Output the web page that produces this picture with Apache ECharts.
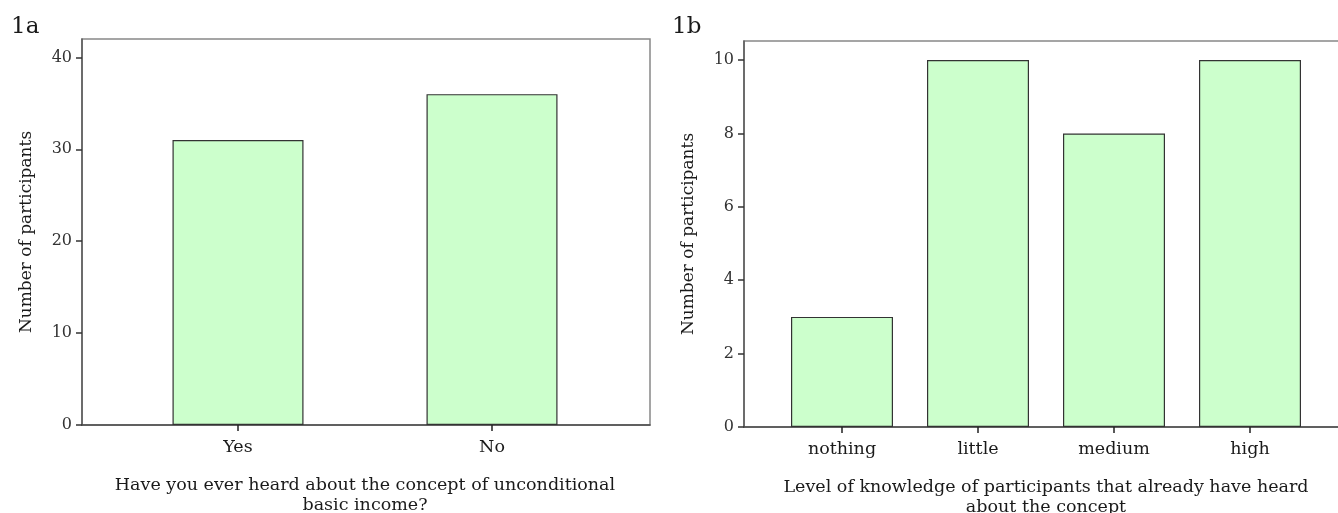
<!DOCTYPE html>
<html>
<head>
<meta charset="utf-8">
<title>Unconditional basic income survey</title>
<script src="https://cdn.jsdelivr.net/npm/echarts@6/dist/echarts.min.js"></script>
<style>
  html, body { margin: 0; padding: 0; background: #ffffff; }
  #chart { width: 1338px; height: 513px; }
</style>
</head>
<body>
<div id="chart"></div>
<script>
// Panel 1a: heard about the concept?
const categoriesA = ['Yes', 'No'];
const valuesA = [31, 36];
const yTicksA = [0, 10, 20, 30, 40];
const yMaxA = 42;

// Panel 1b: knowledge level among those who had heard of it
const categoriesB = ['nothing', 'little', 'medium', 'high'];
const valuesB = [3, 10, 8, 10];
const yTicksB = [0, 2, 4, 6, 8, 10];
const yMaxB = 10.52;

const SERIF = '"DejaVu Serif", serif';
const TEXT = '#1a1a1a';
const BAR_FILL = '#ccffcc';
const BAR_EDGE = '#333333';

const chart = echarts.init(document.getElementById('chart'), null, { renderer: 'canvas' });

function frameX(gridIndex) {
  return {
    gridIndex, type: 'value', min: 0, max: 1,
    axisLine: { show: true, lineStyle: { color: '#4a4a4a', width: 1.5 } },
    axisTick: { show: false }, axisLabel: { show: false }, splitLine: { show: false }
  };
}
function frameY(gridIndex, max, ticks) {
  return {
    gridIndex, type: 'value', min: 0, max,
    axisLine: { show: true, onZero: false, lineStyle: { color: '#5a5a5a', width: 1.5 } },
    axisTick: { show: true, length: 6, customValues: ticks, lineStyle: { color: '#333', width: 1.5 } },
    axisLabel: { customValues: ticks, margin: 10, color: '#333', fontFamily: SERIF, fontSize: 16 },
    splitLine: { show: false },
    name: 'Number of participants', nameLocation: 'middle', nameGap: 47,
    nameTextStyle: { color: TEXT, fontFamily: SERIF, fontSize: 17 }
  };
}
function barX(gridIndex, cats, title) {
  return {
    gridIndex, type: 'category', data: cats,
    axisLine: { show: false },
    axisTick: { show: true, alignWithLabel: true, length: 6, lineStyle: { color: '#222', width: 1.5 } },
    axisLabel: { margin: 13, color: TEXT, fontFamily: SERIF, fontSize: 17.5 },
    name: title, nameLocation: 'middle', nameGap: 50,
    nameTextStyle: { color: TEXT, fontFamily: SERIF, fontSize: 17.5, lineHeight: 20 }
  };
}
function barY(gridIndex, max) {
  return { gridIndex, type: 'value', min: 0, max, show: false, splitLine: { show: false } };
}

// Each panel uses an outer grid for the framed box and y scale, and an
// inset grid whose category bands carry the bars.
const fixed = { containLabel: false, outerBoundsMode: 'none' };

chart.setOption({
  animation: false,
  backgroundColor: '#ffffff',
  title: [
    { text: '1a', left: 6, top: 11, textStyle: { color: TEXT, fontFamily: SERIF, fontSize: 23, fontWeight: 'normal' } },
    { text: '1b', left: 667, top: 11, textStyle: { color: TEXT, fontFamily: SERIF, fontSize: 23, fontWeight: 'normal' } }
  ],
  grid: [
    Object.assign({ left: 82, top: 39, width: 568, height: 386, show: true, borderColor: '#888', borderWidth: 1.5, backgroundColor: 'transparent' }, fixed),
    Object.assign({ left: 111, top: 39, width: 508, height: 386 }, fixed),
    Object.assign({ left: 744, top: 41, width: 604, height: 386, show: true, borderColor: '#888', borderWidth: 1.5, backgroundColor: 'transparent' }, fixed),
    Object.assign({ left: 774, top: 41, width: 544, height: 386 }, fixed)
  ],
  xAxis: [
    frameX(0),
    barX(1, categoriesA, 'Have you ever heard about the concept of unconditional\nbasic income?'),
    frameX(2),
    barX(3, categoriesB, 'Level of knowledge of participants that already have heard\nabout the concept')
  ],
  yAxis: [
    frameY(0, yMaxA, yTicksA),
    barY(1, yMaxA),
    frameY(2, yMaxB, yTicksB),
    barY(3, yMaxB)
  ],
  series: [
    {
      type: 'bar', xAxisIndex: 1, yAxisIndex: 1, data: valuesA, barWidth: 131,
      itemStyle: { color: BAR_FILL, borderColor: BAR_EDGE, borderWidth: 1.2 }
    },
    {
      type: 'bar', xAxisIndex: 3, yAxisIndex: 3, data: valuesB, barWidth: 102,
      itemStyle: { color: BAR_FILL, borderColor: BAR_EDGE, borderWidth: 1.2 }
    }
  ]
});
</script>
</body>
</html>
